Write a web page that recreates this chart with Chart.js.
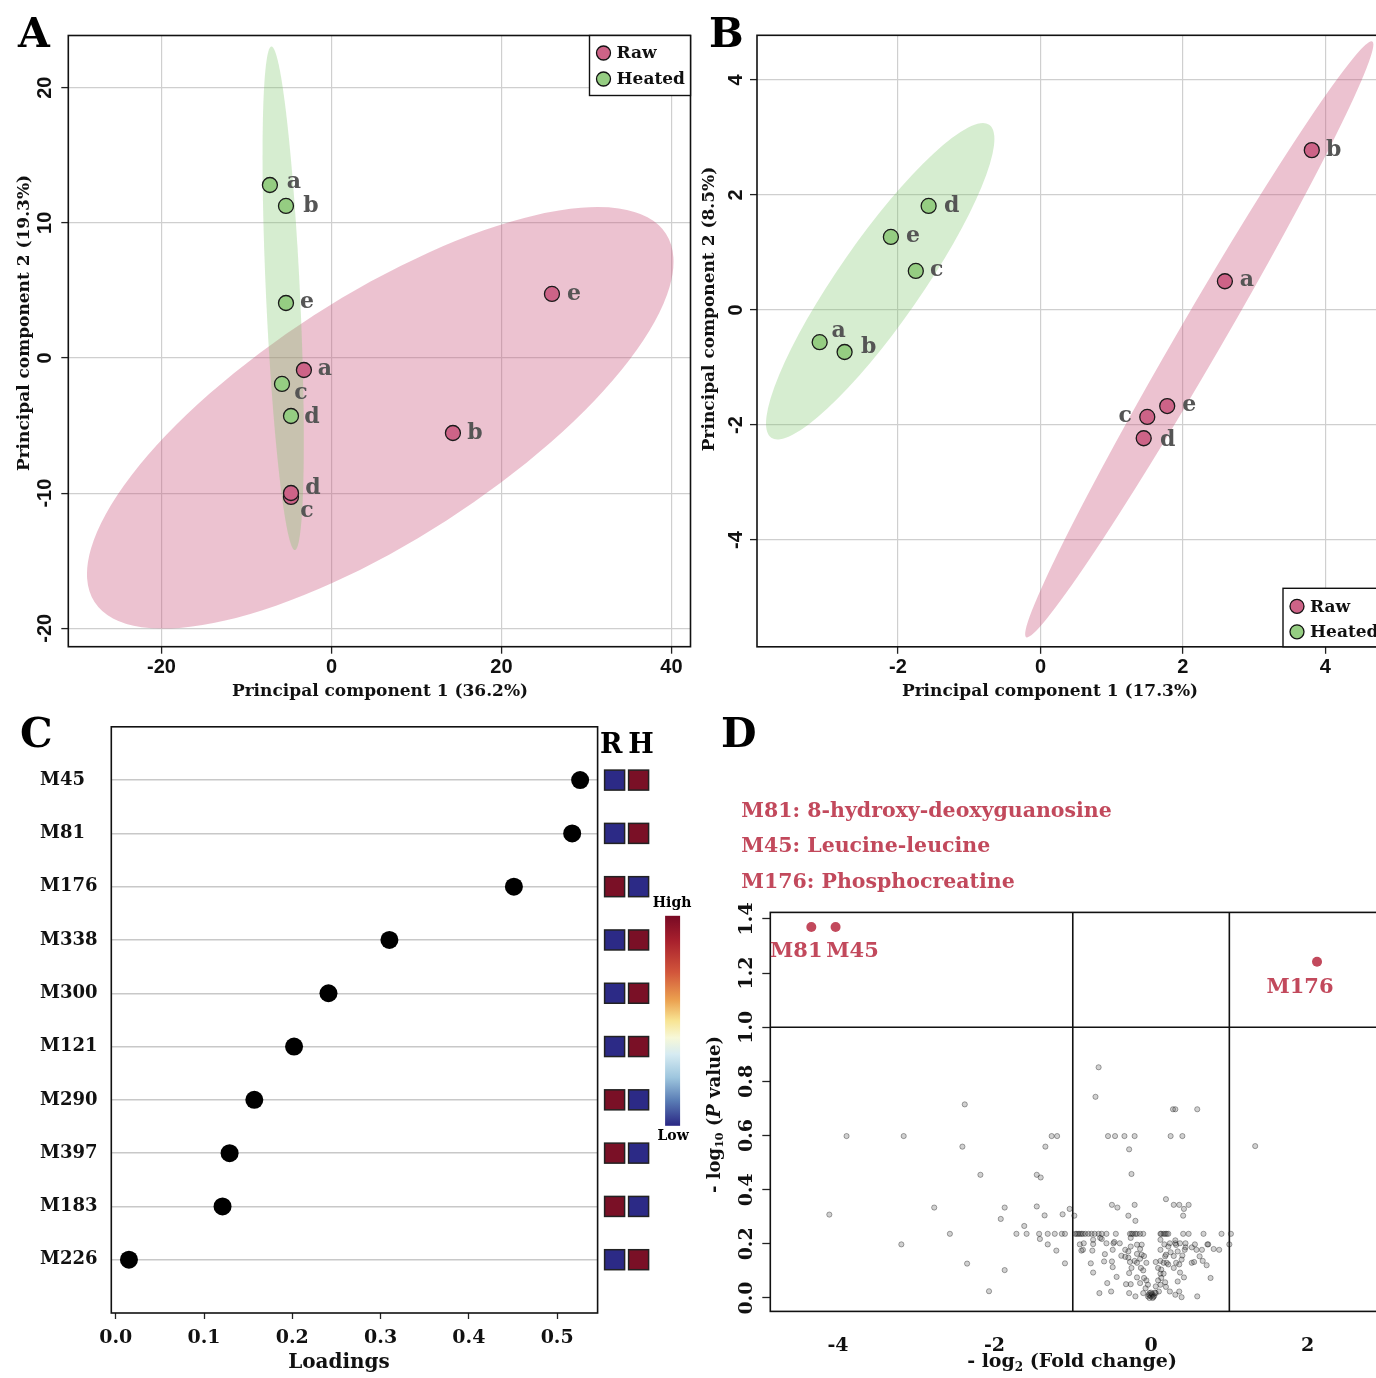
<!DOCTYPE html>
<html lang="en">
<head>
<meta charset="UTF-8">
<title>Raw vs heated: PCA, loadings and volcano plot</title>
<script src="https://cdn.jsdelivr.net/npm/chart.js"></script>
<style>
    html, body { margin: 0; padding: 0; background: #fff; }
    body { position: relative; width: 1376px; height: 1378px; overflow: hidden; }
    .panel { position: absolute; }
    .tag { position: absolute; font: bold 41px "DejaVu Serif", serif; line-height: 41px; color: #000; }
</style>
</head>
<body>
<div class="panel" style="left:0;top:0;width:700px;height:705px"><canvas id="chartA"></canvas></div>
<div class="panel" style="left:690px;top:0;width:760px;height:705px"><canvas id="chartB"></canvas></div>
<div class="panel" style="left:0;top:700px;width:700px;height:678px"><canvas id="chartC"></canvas></div>
<div class="panel" style="left:700px;top:700px;width:760px;height:678px"><canvas id="chartD"></canvas></div>
<div class="tag" style="left:18px;top:13px">A</div>
<div class="tag" style="left:709px;top:13px">B</div>
<div class="tag" style="left:20px;top:713px">C</div>
<div class="tag" style="left:721px;top:713px">D</div>

<script>
// ---------- data ----------
const sampleIds = ['a', 'b', 'c', 'd', 'e'];

// Panel A: PCA scores (PC1 36.2%, PC2 19.3%)
const pcaA_rawPC1 = [-3.24, 14.29, -4.76, -4.76, 25.94];
const pcaA_rawPC2 = [-0.89, -5.55, -10.28, -9.99, 4.74];
const pcaA_heatPC1 = [-7.24, -5.35, -5.82, -4.76, -5.35];
const pcaA_heatPC2 = [12.80, 11.25, -1.92, -4.29, 4.07];
// confidence ellipses: centre, end of major half axis, end of minor half axis
const ellipseA_raw = { center: [5.74, -4.43], major: [39.35, 9.19], minor: [-2.06, 3.16] };
const ellipseA_heat = { center: [-5.68, 4.42], major: [-7.06, 23.05], minor: [-3.68, 4.48] };

// Panel B: PCA scores (PC1 17.3%, PC2 8.5%)
const pcaB_rawPC1 = [2.59, 3.81, 1.50, 1.45, 1.78];
const pcaB_rawPC2 = [0.50, 2.78, -1.86, -2.23, -1.67];
const pcaB_heatPC1 = [-3.10, -2.75, -1.75, -1.57, -2.10];
const pcaB_heatPC2 = [-0.56, -0.73, 0.68, 1.81, 1.27];
const ellipseB_raw = { center: [2.23, -0.51], major: [4.66, 4.67], minor: [1.96, -0.32] };
const ellipseB_heat = { center: [-2.25, 0.50], major: [-0.72, 3.22], minor: [-2.73, 0.91] };

// Panel C: loadings and relative level in raw (R) / heated (H)
const loadingNames = ['M45', 'M81', 'M176', 'M338', 'M300', 'M121', 'M290', 'M397', 'M183', 'M226'];
const loadingValues = [0.526, 0.517, 0.451, 0.310, 0.241, 0.202, 0.157, 0.129, 0.121, 0.015];
const rawLevel = ['low', 'low', 'high', 'low', 'low', 'low', 'high', 'high', 'high', 'low'];
const heatedLevel = ['high', 'high', 'low', 'high', 'high', 'high', 'low', 'low', 'low', 'high'];

// Panel D: volcano plot, [-log2 fold change, -log10 p]
const highlightNames = ['M81', 'M45', 'M176'];
const highlightFC = [-4.34, -4.03, 2.12];
const highlightP = [1.37, 1.37, 1.242];
const compoundNotes = ['M81: 8-hydroxy-deoxyguanosine', 'M45: Leucine-leucine', 'M176: Phosphocreatine'];
const foldCutoffs = [-1, 1];
const pCutoffs = [1.0];
const volcanoPoints = [
    [-4.11, 0.308], [-3.89, 0.598], [-3.16, 0.598], [-3.19, 0.198], [-2.77, 0.334], [-2.57, 0.237],
    [-2.41, 0.559], [-2.38, 0.715], [-2.35, 0.127], [-2.18, 0.455], [-2.07, 0.025], [-1.92, 0.292],
    [-1.87, 0.334], [-1.87, 0.103], [-1.72, 0.237], [-1.62, 0.266], [-1.59, 0.237], [-1.46, 0.455],
    [-1.46, 0.338], [-1.43, 0.237], [-1.42, 0.218], [-1.41, 0.445], [-1.36, 0.305], [-1.35, 0.559],
    [-1.32, 0.237], [-1.32, 0.198], [-1.27, 0.598], [-1.23, 0.237], [-1.21, 0.175], [-1.20, 0.598],
    [-1.14, 0.237], [-1.13, 0.309], [-1.10, 0.237], [-1.10, 0.128], [-1.04, 0.329], [-0.98, 0.304],
    [-0.67, 0.852], [-0.71, 0.743], [0.28, 0.697], [0.31, 0.697], [0.59, 0.697],
    [-0.55, 0.598], [-0.46, 0.598], [-0.34, 0.598], [-0.21, 0.598], [0.25, 0.598], [0.40, 0.598],
    [-0.28, 0.549], [-0.25, 0.458], [1.33, 0.561],
    [-0.50, 0.344], [-0.43, 0.334], [-0.21, 0.344], [0.19, 0.365], [0.29, 0.344], [0.36, 0.344],
    [0.48, 0.344], [0.42, 0.329], [0.41, 0.304], [-0.29, 0.304], [-0.20, 0.285],
    [-0.97, 0.237], [-0.95, 0.237], [-0.93, 0.237], [-0.91, 0.237], [-0.89, 0.237], [-0.87, 0.237],
    [-0.84, 0.237], [-0.80, 0.237], [-0.76, 0.237], [-0.72, 0.237], [-0.67, 0.237], [-0.63, 0.237],
    [-0.57, 0.237], [-0.45, 0.237], [-0.27, 0.237], [-0.25, 0.237], [-0.23, 0.237], [-0.20, 0.237],
    [-0.18, 0.237], [-0.14, 0.237], [-0.10, 0.237], [0.12, 0.237], [0.13, 0.237], [0.16, 0.237],
    [0.18, 0.237], [0.20, 0.237], [0.22, 0.237], [0.41, 0.237], [0.48, 0.237], [0.67, 0.237],
    [0.90, 0.237], [1.02, 0.237],
    [-0.91, 0.198], [-0.86, 0.202], [-0.87, 0.178], [-0.74, 0.215], [-0.65, 0.222], [-0.63, 0.218],
    [-0.57, 0.202], [-0.48, 0.202], [-0.40, 0.202], [-0.47, 0.207], [-0.33, 0.178], [-0.26, 0.222],
    [-0.26, 0.190], [-0.18, 0.197], [-0.12, 0.197], [-0.14, 0.181], [0.12, 0.215], [0.17, 0.198],
    [0.24, 0.202], [0.31, 0.202], [0.37, 0.202], [0.44, 0.202], [0.12, 0.178], [0.22, 0.190],
    [0.34, 0.172], [0.44, 0.187], [0.73, 0.198], [1.00, 0.198], [-0.89, 0.175], [-0.75, 0.175],
    [-0.77, 0.128], [-0.74, 0.094], [-0.60, 0.135], [-0.50, 0.135], [-0.49, 0.114], [-0.44, 0.078],
    [-0.56, 0.055], [-0.66, 0.018], [-0.51, 0.024], [-0.33, 0.152], [-0.29, 0.149], [-0.27, 0.133],
    [-0.21, 0.137], [-0.18, 0.130], [-0.14, 0.145], [-0.09, 0.155], [-0.06, 0.130], [-0.12, 0.160],
    [-0.28, 0.092], [-0.25, 0.111], [-0.13, 0.111], [-0.10, 0.102], [-0.18, 0.076], [-0.14, 0.055],
    [-0.32, 0.051], [-0.26, 0.051], [-0.28, 0.018], [-0.20, 0.006], [-0.09, 0.074], [-0.06, 0.065],
    [-0.04, 0.049], [-0.07, 0.036], [-0.02, 0.018], [0.02, 0.012], [0.04, 0.008], [0.00, 0.006],
    [-0.04, 0.006], [0.06, 0.018], [-0.10, 0.018], [-0.01, 0.010], [0.01, 0.015], [0.03, 0.004],
    [-0.03, 0.012], [0.00, 0.020], [0.02, 0.000], [-0.02, 0.000], [0.05, 0.020],
    [0.06, 0.133], [0.12, 0.137], [0.16, 0.130], [0.20, 0.130], [0.22, 0.124], [0.18, 0.154],
    [0.09, 0.111], [0.13, 0.105], [0.12, 0.090], [0.16, 0.090], [0.13, 0.074], [0.09, 0.065],
    [0.18, 0.058], [0.12, 0.049], [0.06, 0.043], [0.19, 0.041], [0.24, 0.024], [0.31, 0.012],
    [0.36, 0.024], [0.39, 0.003], [0.10, 0.024], [0.32, 0.130], [0.36, 0.124], [0.29, 0.111],
    [0.39, 0.142], [0.40, 0.157], [0.37, 0.094], [0.34, 0.061], [0.42, 0.076], [0.52, 0.130],
    [0.55, 0.133], [0.58, 0.178], [0.65, 0.178], [0.62, 0.154], [0.66, 0.137], [0.71, 0.121],
    [0.76, 0.074], [0.59, 0.006], [0.80, 0.181], [0.87, 0.178], [0.72, 0.198], [0.56, 0.198],
    [0.52, 0.187], [0.43, 0.178], [0.29, 0.155], [0.19, 0.160], [0.25, 0.169], [0.31, 0.213],
    [0.32, 0.196], [-0.59, 0.162], [-0.49, 0.178], [-0.38, 0.156], [-0.29, 0.172], [-0.18, 0.163],
    [-0.74, 0.199]
];

// ---------- styles ----------
const SERIF = '"DejaVu Serif", serif';
const SANS = '"Liberation Sans", Arial, sans-serif';
const RAW_FILL = '#cd6387';
const HEAT_FILL = '#95cd82';
const RAW_AREA = 'rgba(200, 80, 120, 0.35)';
const HEAT_AREA = 'rgba(120, 195, 100, 0.30)';
const GRID = '#cfcfcf';
const NOTE_RED = '#c2495c';
const LEVEL_COLOR = { low: '#2c2a86', high: '#7a1026' };

// placement of the a..e labels next to each point (pixels)
const labelOffsetA_raw = [[21, -1], [22, 0], [16, 14], [22, -5], [22, 0]];
const labelOffsetA_heat = [[24, -3], [25, 0], [19, 9], [21, 1], [21, -1]];
const labelOffsetB_raw = [[22, -1], [22, 0], [-22, -1], [24, 2], [22, -1]];
const labelOffsetB_heat = [[19, -11], [24, -5], [21, -1], [23, 0], [22, -1]];
const labelOffsetD = [[-15, 25], [17, 25], [-17, 26]];

function pts(xs, ys) {
    return xs.map((x, i) => ({ x, y: ys[i] }));
}

// text made of pieces (plain, subscript, italic), centred on (cx, cy)
function drawRich(ctx, parts, cx, cy, size, rotate) {
    const fontFor = p => `${p.italic ? 'italic ' : ''}bold ${p.sub ? Math.round(size * 0.62) : size}px ${SERIF}`;
    ctx.save();
    ctx.translate(cx, cy);
    if (rotate) ctx.rotate(-Math.PI / 2);
    let total = 0;
    parts.forEach(p => { ctx.font = fontFor(p); total += ctx.measureText(p.text).width; });
    let x = -total / 2;
    ctx.fillStyle = '#111';
    ctx.textAlign = 'left';
    ctx.textBaseline = 'middle';
    parts.forEach(p => {
        ctx.font = fontFor(p);
        ctx.fillText(p.text, x, p.sub ? size * 0.3 : 0);
        x += ctx.measureText(p.text).width;
    });
    ctx.restore();
}

// ellipses, cut-off lines, frame, labels, legend, rotated y ticks, titles
function panelDecor(cfg) {
    return {
        id: 'decor' + cfg.key,
        beforeDatasetsDraw(chart) {
            const { ctx, chartArea: area, scales: { x, y } } = chart;
            ctx.save();
            ctx.beginPath();
            ctx.rect(area.left, area.top, area.width, area.height);
            ctx.clip();
            (cfg.ellipses || []).forEach(e => {
                const cx = x.getPixelForValue(e.center[0]), cy = y.getPixelForValue(e.center[1]);
                const ux = x.getPixelForValue(e.major[0]) - cx, uy = y.getPixelForValue(e.major[1]) - cy;
                const vx = x.getPixelForValue(e.minor[0]) - cx, vy = y.getPixelForValue(e.minor[1]) - cy;
                ctx.save();
                ctx.transform(ux, uy, vx, vy, cx, cy);
                ctx.beginPath();
                ctx.arc(0, 0, 1, 0, Math.PI * 2);
                ctx.restore();
                ctx.fillStyle = e.color;
                ctx.fill();
            });
            ctx.strokeStyle = '#111';
            ctx.lineWidth = 1.6;
            (cfg.vLines || []).forEach(v => {
                const px = x.getPixelForValue(v);
                ctx.beginPath(); ctx.moveTo(px, area.top); ctx.lineTo(px, area.bottom); ctx.stroke();
            });
            (cfg.hLines || []).forEach(v => {
                const py = y.getPixelForValue(v);
                ctx.beginPath(); ctx.moveTo(area.left, py); ctx.lineTo(area.right, py); ctx.stroke();
            });
            ctx.restore();

            ctx.save();
            ctx.strokeStyle = '#111';
            ctx.lineWidth = 1.6;
            ctx.strokeRect(area.left, area.top, area.width, area.height);
            ctx.restore();
        },
        afterDatasetsDraw(chart) {
            const { ctx, chartArea: area, scales: { y } } = chart;

            (cfg.pointLabels || []).forEach((pl, di) => {
                if (!pl) return;
                const meta = chart.getDatasetMeta(di);
                ctx.save();
                ctx.font = pl.font;
                ctx.fillStyle = pl.color;
                ctx.textAlign = 'center';
                ctx.textBaseline = 'middle';
                meta.data.forEach((el, j) => {
                    ctx.fillText(pl.texts[j], el.x + pl.offsets[j][0], el.y + pl.offsets[j][1]);
                });
                ctx.restore();
            });

            if (cfg.legend) {
                const L = cfg.legend;
                const x0 = area.right - L.w;
                const y0 = L.corner === 'top' ? area.top : area.bottom - L.h;
                ctx.save();
                ctx.fillStyle = '#fff';
                ctx.fillRect(x0, y0, L.w, L.h);
                ctx.strokeStyle = '#111';
                ctx.lineWidth = 1.4;
                ctx.strokeRect(x0, y0, L.w, L.h);
                ctx.font = `bold 17px ${SERIF}`;
                ctx.textBaseline = 'middle';
                chart.data.datasets.forEach((ds, i) => {
                    const cy = y0 + L.rows[i];
                    ctx.beginPath();
                    ctx.arc(x0 + 14, cy, 7, 0, Math.PI * 2);
                    ctx.fillStyle = ds.backgroundColor;
                    ctx.fill();
                    ctx.lineWidth = 1.3;
                    ctx.stroke();
                    ctx.fillStyle = '#111';
                    ctx.fillText(ds.label, x0 + 27, cy + 1);
                });
                ctx.restore();
            }

            if (cfg.yTicks) {
                ctx.save();
                ctx.font = cfg.yTicks.font;
                ctx.fillStyle = '#111';
                ctx.textAlign = 'center';
                ctx.textBaseline = 'middle';
                y.ticks.forEach(t => {
                    ctx.save();
                    ctx.translate(area.left - cfg.yTicks.offset, y.getPixelForValue(t.value));
                    ctx.rotate(-Math.PI / 2);
                    ctx.fillText(cfg.yTicks.format(t.value), 0, 0);
                    ctx.restore();
                });
                ctx.restore();
            }

            (cfg.titles || []).forEach(t => drawRich(ctx, t.parts, t.x, t.y, t.size, t.rotate));
            if (cfg.extra) cfg.extra(chart);
        }
    };
}

function pcaScales(xr, yr, xh, yw) {
    return {
        x: {
            type: 'linear', min: xr[0], max: xr[1],
            afterFit: s => { s.height = xh; },
            border: { display: false },
            grid: { color: GRID, lineWidth: 1.2, tickColor: '#222', tickLength: 7, tickWidth: 1.3 },
            ticks: { stepSize: xr[2], includeBounds: false, padding: 2, maxRotation: 0, color: '#111',
                     font: { family: SANS, weight: 'bold', size: 20 } }
        },
        y: {
            type: 'linear', min: yr[0], max: yr[1],
            afterFit: s => { s.width = yw; },
            border: { display: false },
            grid: { color: GRID, lineWidth: 1.2, tickColor: '#222', tickLength: 7, tickWidth: 1.3 },
            ticks: { stepSize: yr[2], includeBounds: false, display: false }
        }
    };
}

function pcaDataset(label, xs, ys, fill) {
    return {
        label, data: pts(xs, ys),
        backgroundColor: fill, borderColor: '#1a1a1a', borderWidth: 1.3,
        pointRadius: 7.5, pointHoverRadius: 7.5
    };
}

const baseOptions = {
    responsive: true, maintainAspectRatio: false, animation: false,
    plugins: { legend: { display: false }, tooltip: { enabled: false } }
};

const LETTER_FONT = `bold 22px ${SERIF}`;

// ---------- A ----------
new Chart(document.getElementById('chartA'), {
    type: 'scatter',
    data: { datasets: [
        pcaDataset('Raw', pcaA_rawPC1, pcaA_rawPC2, RAW_FILL),
        pcaDataset('Heated', pcaA_heatPC1, pcaA_heatPC2, HEAT_FILL)
    ] },
    options: {
        ...baseOptions,
        layout: { padding: { left: 0, top: 35.5, right: 9.5, bottom: 0 } },
        scales: pcaScales([-30.96, 42.24, 20], [-21.36, 23.86, 10], 58.3, 68.3)
    },
    plugins: [panelDecor({
        key: 'A',
        ellipses: [{ ...ellipseA_raw, color: RAW_AREA }, { ...ellipseA_heat, color: HEAT_AREA }],
        pointLabels: [
            { texts: sampleIds, offsets: labelOffsetA_raw, font: LETTER_FONT, color: '#555' },
            { texts: sampleIds, offsets: labelOffsetA_heat, font: LETTER_FONT, color: '#555' }
        ],
        legend: { corner: 'top', w: 101, h: 60, rows: [17.5, 43.5] },
        yTicks: { font: `bold 20px ${SANS}`, offset: 23, format: v => String(v) },
        titles: [
            { parts: [{ text: 'Principal component 1 (36.2%)' }], x: 380, y: 692, size: 17 },
            { parts: [{ text: 'Principal component 2 (19.3%)' }], x: 24.5, y: 323, size: 17, rotate: true }
        ]
    })]
});

// ---------- B ----------
new Chart(document.getElementById('chartB'), {
    type: 'scatter',
    data: { datasets: [
        pcaDataset('Raw', pcaB_rawPC1, pcaB_rawPC2, RAW_FILL),
        pcaDataset('Heated', pcaB_heatPC1, pcaB_heatPC2, HEAT_FILL)
    ] },
    options: {
        ...baseOptions,
        layout: { padding: { left: 0, top: 35.3, right: 67, bottom: 0 } },
        scales: pcaScales([-3.98, 4.81, 2], [-5.857, 4.777, 2], 58.2, 67)
    },
    plugins: [panelDecor({
        key: 'B',
        ellipses: [{ ...ellipseB_heat, color: HEAT_AREA }, { ...ellipseB_raw, color: RAW_AREA }],
        pointLabels: [
            { texts: sampleIds, offsets: labelOffsetB_raw, font: LETTER_FONT, color: '#555' },
            { texts: sampleIds, offsets: labelOffsetB_heat, font: LETTER_FONT, color: '#555' }
        ],
        legend: { corner: 'bottom', w: 100, h: 58.5, rows: [18, 43.5] },
        yTicks: { font: `bold 20px ${SANS}`, offset: 21, format: v => String(v) },
        titles: [
            { parts: [{ text: 'Principal component 1 (17.3%)' }], x: 360, y: 692, size: 17 },
            { parts: [{ text: 'Principal component 2 (8.5%)' }], x: 19.5, y: 309, size: 17, rotate: true }
        ]
    })]
});

// ---------- C ----------
function drawLevels(chart) {
    const { ctx, chartArea: area, scales: { y } } = chart;
    ctx.save();
    loadingNames.forEach((name, i) => {
        const cy = y.getPixelForValue(i + 1);
        [rawLevel[i], heatedLevel[i]].forEach((lv, k) => {
            const x = area.right + 7 + k * 24;
            ctx.fillStyle = LEVEL_COLOR[lv];
            ctx.fillRect(x, cy - 10, 20, 20);
            ctx.strokeStyle = '#222';
            ctx.lineWidth = 1.5;
            ctx.strokeRect(x, cy - 10, 20, 20);
        });
    });
    ctx.fillStyle = '#000';
    ctx.textAlign = 'center';
    ctx.textBaseline = 'middle';
    ctx.font = `bold 27px ${SERIF}`;
    ctx.fillText('R', area.right + 13.5, area.top + 19);
    ctx.fillText('H', area.right + 43.5, area.top + 19);

    const bx = area.right + 67.5, by = area.top + 189, bw = 15, bh = 210;
    const grad = ctx.createLinearGradient(0, by, 0, by + bh);
    [[0, '#780a24'], [0.12, '#a8202d'], [0.27, '#d2563b'], [0.4, '#eba04f'], [0.5, '#f8e493'],
     [0.58, '#f7f8d8'], [0.66, '#d6ebf2'], [0.77, '#9ec6de'], [0.88, '#5a7db5'], [1, '#2a2784']]
        .forEach(([p, c]) => grad.addColorStop(p, c));
    ctx.fillStyle = grad;
    ctx.fillRect(bx, by, bw, bh);
    ctx.fillStyle = '#000';
    ctx.font = `bold 14px ${SERIF}`;
    ctx.fillText('High', bx + 7, by - 12);
    ctx.fillText('Low', bx + 8, by + bh + 11);
    ctx.restore();
}

new Chart(document.getElementById('chartC'), {
    type: 'scatter',
    data: { datasets: [{
        label: 'Loadings',
        data: loadingValues.map((v, i) => ({ x: v, y: i + 1 })),
        backgroundColor: '#000', borderWidth: 0, pointRadius: 9, pointHoverRadius: 9
    }] },
    options: {
        ...baseOptions,
        layout: { padding: { left: 40, top: 26.8, right: 102.4, bottom: 0 } },
        scales: {
            x: {
                type: 'linear', min: -0.005, max: 0.5458,
                afterFit: s => { s.height = 65; },
                border: { display: false },
                grid: { drawOnChartArea: false, drawTicks: true, tickLength: 6, tickColor: '#222', tickWidth: 1.3 },
                ticks: { stepSize: 0.1, includeBounds: false, padding: 8, maxRotation: 0, color: '#111',
                         font: { family: SERIF, weight: 'bold', size: 19 }, callback: v => v.toFixed(1) }
            },
            y: {
                type: 'linear', min: 0, max: loadingNames.length + 1, reverse: true,
                afterFit: s => { s.width = 71.3; },
                border: { display: false },
                grid: { drawTicks: false, lineWidth: 1.5,
                        color: c => (c.tick && (c.tick.value === 0 || c.tick.value === loadingNames.length + 1)) ? 'rgba(0,0,0,0)' : '#c8c8c8' },
                ticks: { stepSize: 1, crossAlign: 'far', color: '#111',
                         font: { family: SERIF, weight: 'bold', size: 18 },
                         callback: v => loadingNames[v - 1] || '' }
            }
        }
    },
    plugins: [panelDecor({
        key: 'C',
        titles: [{ parts: [{ text: 'Loadings' }], x: 339, y: 663, size: 20 }],
        extra: drawLevels
    })]
});

// ---------- D ----------
function drawNotes(chart) {
    const { ctx, chartArea: area } = chart;
    ctx.save();
    ctx.fillStyle = NOTE_RED;
    ctx.font = `bold 20.5px ${SERIF}`;
    ctx.textAlign = 'left';
    ctx.textBaseline = 'middle';
    compoundNotes.forEach((t, i) => ctx.fillText(t, area.left - 29, area.top - 101 + i * 35.4));
    ctx.restore();
}

new Chart(document.getElementById('chartD'), {
    type: 'scatter',
    data: { datasets: [
        {
            label: 'Metabolites',
            data: volcanoPoints.map(p => ({ x: p[0], y: p[1] })),
            backgroundColor: 'rgba(70, 70, 70, 0.25)', borderColor: 'rgba(0, 0, 0, 0.42)', borderWidth: 0.8,
            pointRadius: 2.6, pointHoverRadius: 2.6
        },
        {
            label: 'Significant',
            data: pts(highlightFC, highlightP),
            backgroundColor: NOTE_RED, borderWidth: 0, pointRadius: 5, pointHoverRadius: 5
        }
    ] },
    options: {
        ...baseOptions,
        layout: { padding: { left: 0, top: 212.4, right: 60, bottom: 0 } },
        scales: {
            x: {
                type: 'linear', min: -4.864, max: 3.18,
                afterFit: s => { s.height = 66.6; },
                border: { display: false },
                grid: { display: false },
                ticks: { stepSize: 2, includeBounds: false, padding: 15, maxRotation: 0, color: '#111',
                         font: { family: SERIF, weight: 'bold', size: 19 } }
            },
            y: {
                type: 'linear', min: -0.0495, max: 1.424,
                afterFit: s => { s.width = 70.3; },
                border: { display: false },
                grid: { drawOnChartArea: false, drawTicks: true, tickLength: 8, tickColor: '#222', tickWidth: 1.3 },
                ticks: { stepSize: 0.2, includeBounds: false, display: false }
            }
        }
    },
    plugins: [panelDecor({
        key: 'D',
        vLines: foldCutoffs,
        hLines: pCutoffs,
        pointLabels: [null,
            { texts: highlightNames, offsets: labelOffsetD, font: `bold 21px ${SERIF}`, color: NOTE_RED }],
        yTicks: { font: `bold 19px ${SERIF}`, offset: 23, format: v => v.toFixed(1) },
        titles: [
            { parts: [{ text: '- log' }, { text: '2', sub: true }, { text: ' (Fold change)' }], x: 372, y: 662, size: 19 },
            { parts: [{ text: '- log' }, { text: '10', sub: true }, { text: ' (' }, { text: 'P', italic: true }, { text: ' value)' }],
              x: 15, y: 414.5, size: 18, rotate: true }
        ],
        extra: drawNotes
    })]
});
</script>
</body>
</html>
